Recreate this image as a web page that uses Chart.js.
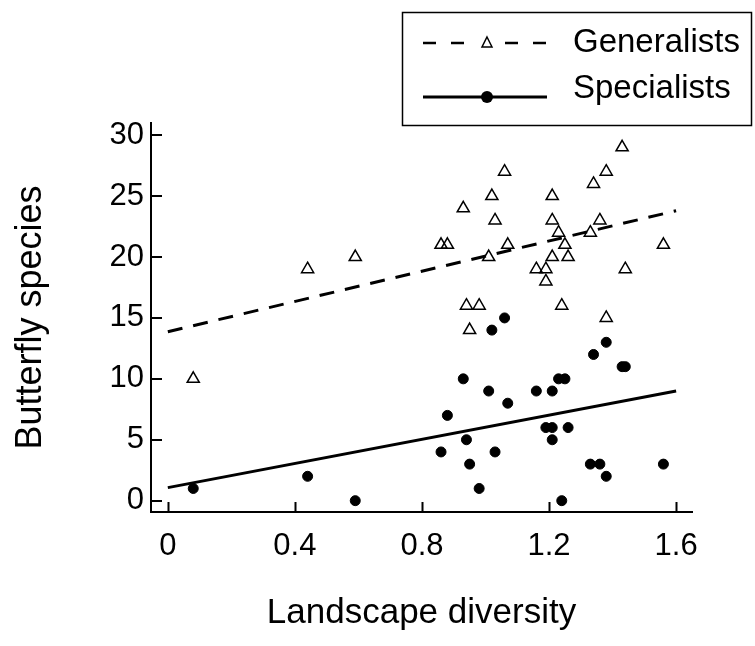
<!DOCTYPE html>
<html>
<head>
<meta charset="utf-8">
<title>Butterfly species vs landscape diversity</title>
<script src="https://cdn.jsdelivr.net/npm/chart.js@4"></script>
<style>
  html, body { margin: 0; padding: 0; background: #fff; }
  #wrap { width: 755px; height: 646px; }
</style>
</head>
<body>
<div id="wrap"><canvas id="chart" width="755" height="646"></canvas></div>
<script>
// site values
const genX = [0.08, 0.44, 0.59, 0.86, 0.88, 0.93, 0.94, 0.98, 0.95, 1.01, 1.02, 1.03, 1.06, 1.07, 1.16, 1.19,
  1.19, 1.21, 1.21, 1.21, 1.23, 1.25, 1.26, 1.24, 1.33, 1.34, 1.36, 1.38, 1.38, 1.43, 1.44, 1.56];
const genY = [10, 19, 20, 21, 21, 24, 16, 16, 14, 20, 25, 23, 27, 21, 19, 19,
  18, 25, 23, 20, 22, 21, 20, 16, 22, 26, 23, 27, 15, 29, 19, 21];

const specX = [0.08, 0.44, 0.59, 0.86, 0.88, 0.93, 0.94, 0.95, 0.98, 1.01, 1.02, 1.03, 1.06, 1.07, 1.16, 1.19,
  1.21, 1.21, 1.21, 1.23, 1.25, 1.26, 1.24, 1.33, 1.34, 1.36, 1.38, 1.38, 1.43, 1.44, 1.56];
const specY = [1, 2, 0, 4, 7, 10, 5, 3, 1, 9, 14, 4, 15, 8, 9, 6,
  6, 5, 9, 10, 10, 6, 0, 3, 12, 3, 13, 2, 11, 11, 3];

// fitted lines (end points)
const fitX = [0, 1.6];
const genFit = [13.87, 23.8];
const specFit = [1.07, 9.0];

const xTicks = [0, 0.4, 0.8, 1.2, 1.6];
const yTicks = [0, 5, 10, 15, 20, 25, 30];

const seriesNames = ['Generalists', 'Specialists'];

const FONT = '"Liberation Sans", Arial, sans-serif';

function zip(xs, ys) {
  return xs.map((x, i) => ({ x: x, y: ys[i] }));
}

// ticks drawn inward from the axis lines
const innerTicks = {
  id: 'innerTicks',
  afterDraw(chart) {
    const ctx = chart.ctx;
    const area = chart.chartArea;
    const xs = chart.scales.x, ys = chart.scales.y;
    ctx.save();
    ctx.strokeStyle = '#000';
    ctx.lineWidth = 2;
    ctx.beginPath();
    xTicks.forEach(v => {
      const px = Math.round(xs.getPixelForValue(v)) + 0.5;
      ctx.moveTo(px, area.bottom);
      ctx.lineTo(px, area.bottom - 10);
    });
    yTicks.forEach(v => {
      const py = Math.round(ys.getPixelForValue(v));
      ctx.moveTo(area.left, py);
      ctx.lineTo(area.left + 11, py);
    });
    ctx.stroke();
    ctx.restore();
  }
};

// boxed legend in the top right corner
const boxLegend = {
  id: 'boxLegend',
  afterDraw(chart) {
    const ctx = chart.ctx;
    const ds = chart.data.datasets;
    ctx.save();
    ctx.strokeStyle = '#000';
    ctx.lineWidth = 1.5;
    ctx.strokeRect(402.5, 12.5, 349, 113);

    // generalists row
    ctx.lineWidth = 2.5;
    ctx.setLineDash([13, 15]);
    ctx.beginPath();
    ctx.moveTo(423, 43); ctx.lineTo(466, 43);
    ctx.moveTo(505, 43); ctx.lineTo(547, 43);
    ctx.stroke();
    ctx.setLineDash([]);
    ctx.lineWidth = 1.5;
    ctx.beginPath();
    ctx.moveTo(487, 37); ctx.lineTo(492, 47); ctx.lineTo(482, 47); ctx.closePath();
    ctx.stroke();

    // specialists row
    ctx.lineWidth = 3;
    ctx.beginPath();
    ctx.moveTo(423, 97); ctx.lineTo(547, 97);
    ctx.stroke();
    ctx.fillStyle = '#000';
    ctx.beginPath();
    ctx.arc(487, 97, 6, 0, Math.PI * 2);
    ctx.fill();

    ctx.font = '33px ' + FONT;
    ctx.textBaseline = 'middle';
    ctx.textAlign = 'left';
    ctx.fillText(ds[0].label, 573, 43);
    ctx.fillText(ds[1].label, 573, 89);
    ctx.restore();
  }
};

new Chart(document.getElementById('chart'), {
  type: 'scatter',
  data: {
    datasets: [
      {
        label: seriesNames[0],
        data: zip(genX, genY),
        pointStyle: 'triangle',
        pointRadius: 7,
        pointBorderWidth: 1.5,
        borderColor: '#000',
        backgroundColor: 'rgba(0,0,0,0)',
      },
      {
        label: seriesNames[1],
        data: zip(specX, specY),
        pointStyle: 'circle',
        pointRadius: 5,
        borderColor: '#000',
        backgroundColor: '#000',
      },
      {
        label: seriesNames[0] + ' fit',
        data: zip(fitX, genFit),
        showLine: true,
        pointRadius: 0,
        borderColor: '#000',
        borderWidth: 3,
        borderDash: [15, 11],
      },
      {
        label: seriesNames[1] + ' fit',
        data: zip(fitX, specFit),
        showLine: true,
        pointRadius: 0,
        borderColor: '#000',
        borderWidth: 3,
      }
    ]
  },
  options: {
    responsive: false,
    animation: false,
    devicePixelRatio: 1,
    layout: { padding: { top: 123, right: 63, left: 0, bottom: 0 } },
    plugins: {
      legend: { display: false },
      tooltip: { enabled: false }
    },
    scales: {
      x: {
        type: 'linear',
        min: -0.053,
        max: 1.65,
        afterFit: s => { s.height = 134; },
        afterBuildTicks: s => { s.ticks = xTicks.map(v => ({ value: v })); },
        grid: { display: false, drawTicks: false },
        border: { display: true, color: '#000', width: 2 },
        ticks: {
          color: '#000',
          padding: 16,
          font: { family: FONT, size: 31 },
          callback: v => String(v)
        },
        title: {
          display: true,
          text: 'Landscape diversity',
          color: '#000',
          font: { family: FONT, size: 35 },
          padding: { bottom: 12, top: 0 }
        }
      },
      y: {
        type: 'linear',
        min: -0.93,
        max: 31,
        afterFit: s => { s.width = 151; },
        afterBuildTicks: s => { s.ticks = yTicks.map(v => ({ value: v })); },
        grid: { display: false, drawTicks: false },
        border: { display: true, color: '#000', width: 2 },
        ticks: {
          color: '#000',
          padding: 7,
          font: { family: FONT, size: 31 },
          callback: v => String(v)
        },
        title: {
          display: true,
          text: 'Butterfly species',
          color: '#000',
          font: { family: FONT, size: 36 },
          padding: { top: 9, bottom: 0 }
        }
      }
    }
  },
  plugins: [innerTicks, boxLegend]
});
</script>
</body>
</html>
